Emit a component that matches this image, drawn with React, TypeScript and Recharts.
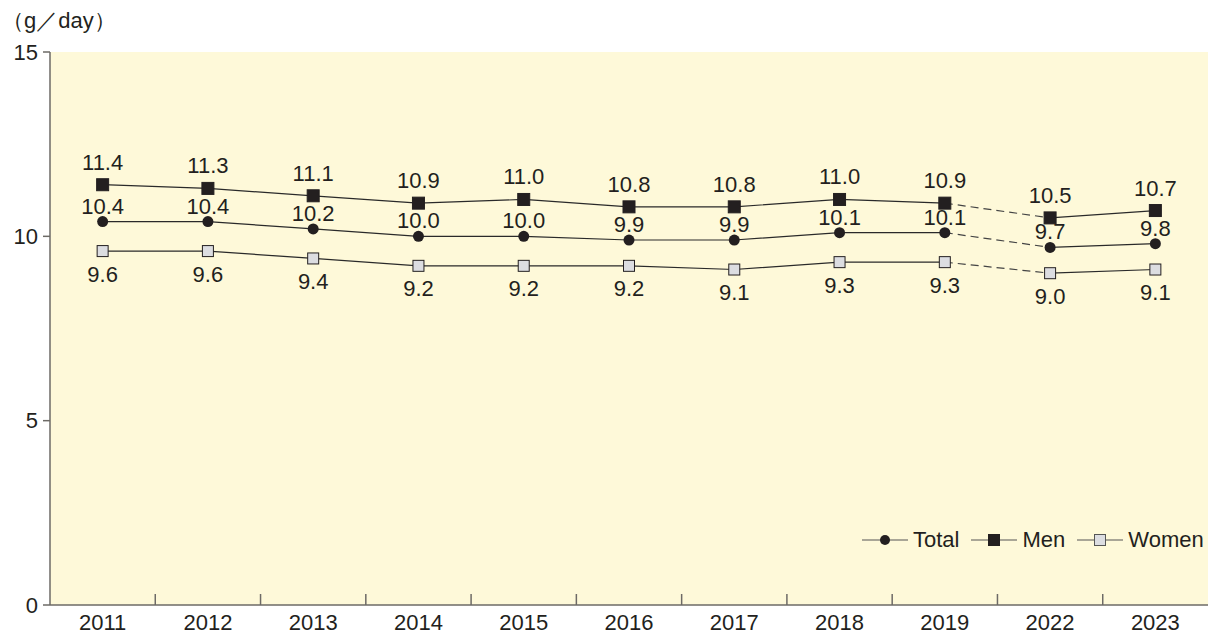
import React from 'react';
import { LineChart, Line, XAxis, YAxis, CartesianGrid, LabelList } from 'recharts';

const years = ['2011', '2012', '2013', '2014', '2015', '2016', '2017', '2018', '2019', '2022', '2023'];
const men = [11.4, 11.3, 11.1, 10.9, 11.0, 10.8, 10.8, 11.0, 10.9, 10.5, 10.7];
const total = [10.4, 10.4, 10.2, 10.0, 10.0, 9.9, 9.9, 10.1, 10.1, 9.7, 9.8];
const women = [9.6, 9.6, 9.4, 9.2, 9.2, 9.2, 9.1, 9.3, 9.3, 9.0, 9.1];
const yTicks = [0, 5, 10, 15];

// the gap between 2019 and 2022 is drawn dashed
const breakAt = 8;

const split = (vals: number[], i: number) => ({
  before: i <= breakAt ? vals[i] : null,
  gap: i === breakAt || i === breakAt + 1 ? vals[i] : null,
  after: i > breakAt ? vals[i] : null,
});

const data = years.map((year, i) => {
  const m = split(men, i);
  const t = split(total, i);
  const w = split(women, i);
  return {
    x: i + 0.5,
    year,
    men: men[i],
    total: total[i],
    women: women[i],
    menA: m.before, menB: m.gap, menC: m.after,
    totalA: t.before, totalB: t.gap, totalC: t.after,
    womenA: w.before, womenB: w.gap, womenC: w.after,
  };
});

// label ticks at category centres, tick marks at the boundaries
const xTicks: number[] = [];
for (let i = 0; i < years.length; i++) {
  xTicks.push(i + 0.5);
  if (i < years.length - 1) xTicks.push(i + 1);
}

const font = '"Liberation Sans", Arial, sans-serif';
const ink = '#231f20';
const axisGray = '#6d6a66';

const XTick = (props: any) => {
  const { x, y, payload } = props;
  const v = payload.value as number;
  if (Number.isInteger(v)) {
    return <line x1={x} y1={y} x2={x} y2={y - 11} stroke={axisGray} strokeWidth={1.5} />;
  }
  return (
    <text x={x} y={y + 25} textAnchor="middle" fill={ink} fontSize={22} fontFamily={font}>
      {years[Math.floor(v)]}
    </text>
  );
};

const SquareDot = (fill: string, size: number) => (props: any) => {
  const { cx, cy } = props;
  if (cx == null || cy == null) return <g />;
  return (
    <rect x={cx - size / 2} y={cy - size / 2} width={size} height={size}
      fill={fill} stroke={ink} strokeWidth={1} />
  );
};

const CircleDot = (props: any) => {
  const { cx, cy } = props;
  if (cx == null || cy == null) return <g />;
  return <circle cx={cx} cy={cy} r={5.5} fill={ink} />;
};

const LegendIcon = ({ kind }: { kind: string }) => (
  <svg width={46} height={14} style={{ verticalAlign: 'middle' }}>
    <line x1={0} y1={7} x2={46} y2={7} stroke="#555" strokeWidth={1.2} />
    {kind === 'circle' && <circle cx={23} cy={7} r={5} fill={ink} />}
    {kind === 'men' && <rect x={17} y={1} width={12} height={12} fill={ink} />}
    {kind === 'women' && <rect x={17.5} y={1.5} width={11} height={11} fill="#dcdde1" stroke="#555" />}
  </svg>
);

const segment = (key: string, dashed: boolean) => (
  <Line key={key} dataKey={key} stroke={dashed ? '#444' : '#2a2a2a'} strokeWidth={1.2}
    strokeDasharray={dashed ? '8 5' : undefined} dot={false} activeDot={false}
    connectNulls={false} isAnimationActive={false} legendType="none" />
);

const labelStyle = { fill: ink, fontSize: 22, fontFamily: font };
const fmt = (v: any) => Number(v).toFixed(1);

export default function App() {
  return (
    <div style={{ position: 'absolute', left: 0, top: 0, width: 1208, height: 635, background: '#fff' }}>
      <div style={{ position: 'absolute', left: 2, top: 6, fontFamily: font, fontSize: 22, color: ink }}>
        （g／day）
      </div>
      <LineChart width={1208} height={635} data={data} margin={{ top: 52, right: 0, bottom: 0, left: 0 }}>
        <CartesianGrid horizontal={false} vertical={false} fill="#fef9d9" />
        <XAxis dataKey="x" type="number" domain={[0, 11]} ticks={xTicks} interval={0}
          tick={<XTick />} tickLine={false} tickSize={0} tickMargin={0} height={30}
          axisLine={{ stroke: axisGray, strokeWidth: 1.5 }} />
        <YAxis domain={[0, 15]} ticks={yTicks} width={50} tickSize={7}
          axisLine={{ stroke: axisGray, strokeWidth: 1.5 }} tickLine={{ stroke: axisGray, strokeWidth: 1.5 }}
          tick={{ fill: ink, fontSize: 22, fontFamily: font }} tickMargin={5} />
        {segment('menA', false)}{segment('menB', true)}{segment('menC', false)}
        {segment('totalA', false)}{segment('totalB', true)}{segment('totalC', false)}
        {segment('womenA', false)}{segment('womenB', true)}{segment('womenC', false)}
        <Line dataKey="men" stroke="none" dot={SquareDot(ink, 12)} activeDot={false} isAnimationActive={false}>
          <LabelList dataKey="men" position="top" offset={15} {...labelStyle} formatter={fmt} />
        </Line>
        <Line dataKey="total" stroke="none" dot={CircleDot} activeDot={false} isAnimationActive={false}>
          <LabelList dataKey="total" position="top" offset={8} {...labelStyle} formatter={fmt} />
        </Line>
        <Line dataKey="women" stroke="none" dot={SquareDot('#dcdde1', 11)} activeDot={false} isAnimationActive={false}>
          <LabelList dataKey="women" position="bottom" offset={15} {...labelStyle} formatter={fmt} />
        </Line>
      </LineChart>
      <div style={{ position: 'absolute', left: 862, top: 527, display: 'flex', alignItems: 'center',
        fontFamily: font, fontSize: 22, color: ink }}>
        <LegendIcon kind="circle" /><span style={{ margin: '0 12px 0 5px' }}>Total</span>
        <LegendIcon kind="men" /><span style={{ margin: '0 12px 0 5px' }}>Men</span>
        <LegendIcon kind="women" /><span style={{ margin: '0 0 0 5px' }}>Women</span>
      </div>
    </div>
  );
}
